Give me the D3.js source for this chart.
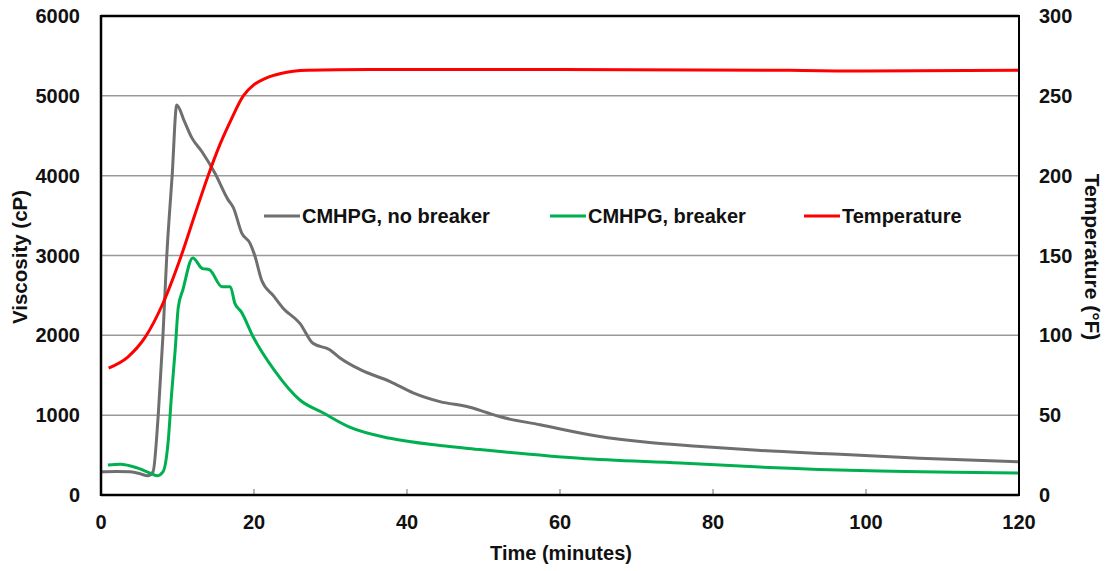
<!DOCTYPE html>
<html><head><meta charset="utf-8">
<script src="https://cdn.jsdelivr.net/npm/d3@7"></script>
<style>
body{margin:0;background:#fff;}
text{font-family:"Liberation Sans",Arial,sans-serif;}
</style></head>
<body><svg id="c" width="1110" height="571"></svg>
<script>
// ---- data ----
const timeNoBreaker = [0, 2, 3.8, 5, 6.1, 6.8, 7.5, 8.1, 8.6, 9.3, 9.9, 10.9, 11.9, 13.2, 14.9, 16.6, 17.3, 18.4, 19.5, 20.1, 21.0, 22.5, 23.8, 26.0, 27.7, 29.9, 31.2, 33.9, 37.8, 40.8, 44.3, 48.2, 50.5, 52.2, 57.4, 64.8, 71.4, 77.9, 85.8, 96.6, 107, 120];
const viscNoBreaker = [290, 295, 290, 270, 240, 290, 1030, 2000, 3000, 4000, 4885, 4680, 4470, 4300, 4030, 3700, 3600, 3280, 3150, 3000, 2690, 2500, 2340, 2150, 1900, 1820, 1720, 1570, 1420, 1280, 1170, 1100, 1030, 980, 880, 740, 660, 610, 560, 510, 460, 415];

const timeBreaker = [0.9, 2.5, 4.7, 6.4, 7.3, 8.1, 8.8, 9.2, 9.7, 10.1, 10.7, 12.0, 13.2, 14.2, 15.8, 16.9, 17.5, 18.3, 19.9, 22.6, 26, 29, 32.5, 37.8, 44.3, 49.5, 52.2, 62.6, 75.7, 86.1, 101.8, 120];
const viscBreaker = [375, 385, 340, 275, 240, 290, 690, 1230, 1820, 2350, 2570, 2970, 2840, 2820, 2610, 2610, 2400, 2300, 1980, 1570, 1190, 1030, 850, 710, 620, 570, 545, 460, 400, 350, 300, 275];

const timeTemp = [1.0, 3.5, 5.8, 8.0, 10.5, 12.3, 14.0, 15.5, 17.0, 18.6, 20.0, 21.5, 23.5, 27, 35, 60, 90, 100, 120];
const temperature = [79.5, 86.4, 99, 119, 150, 176, 200, 219, 235, 250, 257, 261, 264, 266, 266.5, 266.5, 266, 265.5, 266];

const xTicks = [0, 20, 40, 60, 80, 100, 120];
const viscTicks = [0, 1000, 2000, 3000, 4000, 5000, 6000];
const tempTicks = [0, 50, 100, 150, 200, 250, 300];
const seriesNames = ["CMHPG, no breaker", "CMHPG, breaker", "Temperature"];
const seriesColors = ["#6f6f6f", "#00b050", "#ff0000"];

// ---- layout ----
const svg = d3.select("#c");
const L = 101, R = 1019, T = 16, B = 495;
const x = d3.scaleLinear().domain([0, 120]).range([L, R]);
const yV = d3.scaleLinear().domain([0, 6000]).range([B, T]);
const yT = d3.scaleLinear().domain([0, 300]).range([B, T]);

// gridlines
svg.append("g").selectAll("line").data(viscTicks.filter(v => v > 0 && v < 6000)).join("line")
  .attr("x1", L).attr("x2", R).attr("y1", d => yV(d)).attr("y2", d => yV(d))
  .attr("stroke", "#999").attr("stroke-width", 1.5);

// x ticks inside
svg.append("g").selectAll("line").data(xTicks.filter(v => v > 0 && v < 120)).join("line")
  .attr("x1", d => x(d)).attr("x2", d => x(d)).attr("y1", B).attr("y2", B - 6)
  .attr("stroke", "#888").attr("stroke-width", 1.2);

// series
const mk = (ts, vs) => ts.map((t, i) => [t, vs[i]]);
const lineV = d3.line().x(d => x(d[0])).y(d => yV(d[1])).curve(d3.curveMonotoneX);
const lineT = d3.line().x(d => x(d[0])).y(d => yT(d[1])).curve(d3.curveMonotoneX);
svg.append("path").attr("d", lineV(mk(timeNoBreaker, viscNoBreaker)))
  .attr("fill", "none").attr("stroke", seriesColors[0]).attr("stroke-width", 3).attr("stroke-linejoin", "round");
svg.append("path").attr("d", lineV(mk(timeBreaker, viscBreaker)))
  .attr("fill", "none").attr("stroke", seriesColors[1]).attr("stroke-width", 3).attr("stroke-linejoin", "round");
svg.append("path").attr("d", lineT(mk(timeTemp, temperature)))
  .attr("fill", "none").attr("stroke", seriesColors[2]).attr("stroke-width", 3).attr("stroke-linejoin", "round");

// frame
svg.append("line").attr("x1", L).attr("x2", R).attr("y1", T).attr("y2", T).attr("stroke", "#000").attr("stroke-width", 2.5);
svg.append("line").attr("x1", L).attr("x2", R).attr("y1", B).attr("y2", B).attr("stroke", "#000").attr("stroke-width", 2.5);
svg.append("line").attr("x1", L).attr("x2", L).attr("y1", T - 1).attr("y2", B + 1).attr("stroke", "#000").attr("stroke-width", 2.5);
svg.append("line").attr("x1", R).attr("x2", R).attr("y1", T - 1).attr("y2", B + 1).attr("stroke", "#000").attr("stroke-width", 2);

// tick labels
const fs = 20;
svg.append("g").selectAll("text").data(viscTicks).join("text")
  .attr("x", 80).attr("y", d => yV(d) + 7).attr("text-anchor", "end")
  .attr("font-size", fs).attr("font-weight", "bold").attr("fill", "#111").text(d => d);
svg.append("g").selectAll("text").data(tempTicks).join("text")
  .attr("x", 1039).attr("y", d => yT(d) + 7).attr("text-anchor", "start")
  .attr("font-size", fs).attr("font-weight", "bold").attr("fill", "#111").text(d => d);
svg.append("g").selectAll("text").data(xTicks).join("text")
  .attr("x", d => x(d)).attr("y", 529).attr("text-anchor", "middle")
  .attr("font-size", fs).attr("font-weight", "bold").attr("fill", "#111").text(d => d);

// axis titles
svg.append("text").attr("x", 561).attr("y", 560).attr("text-anchor", "middle")
  .attr("font-size", 20).attr("font-weight", "bold").attr("fill", "#111").text("Time (minutes)");
svg.append("text").attr("transform", "translate(27,257) rotate(-90)").attr("text-anchor", "middle")
  .attr("font-size", 20.5).attr("font-weight", "bold").attr("fill", "#111").text("Viscosity (cP)");
svg.append("text").attr("transform", "translate(1085,257) rotate(90)").attr("text-anchor", "middle")
  .attr("font-size", 21).attr("font-weight", "bold").attr("fill", "#111").text("Temperature (°F)");

// legend
const legX = [264, 550, 804];
const lg = svg.append("g");
seriesNames.forEach((n, i) => {
  lg.append("line").attr("x1", legX[i]).attr("x2", legX[i] + 36).attr("y1", 216).attr("y2", 216)
    .attr("stroke", seriesColors[i]).attr("stroke-width", 3);
  lg.append("text").attr("x", legX[i] + 38).attr("y", 223).attr("font-size", 20).attr("font-weight", "bold")
    .attr("fill", "#111").text(n);
});
</script></body></html>
